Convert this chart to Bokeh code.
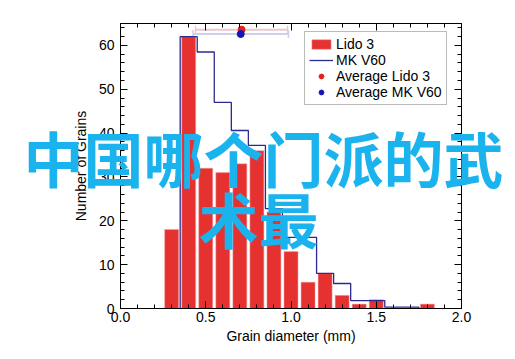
from bokeh.plotting import figure
from bokeh.models import (Range1d, SingleIntervalTicker, LinearAxis, NumeralTickFormatter,
                          Legend, LegendItem, Label, Whisker, ColumnDataSource)
from bokeh.embed import file_html
from bokeh.resources import INLINE

# ---- data ----
lido3_centers = [0.3, 0.4, 0.5, 0.6, 0.7, 0.8, 0.9, 1.0, 1.1, 1.2, 1.3, 1.4, 1.5, 1.6, 1.7, 1.8]
lido3_counts = [18, 62, 32, 31, 33, 36, 22, 13, 6, 8, 3, 1, 2, 0, 0, 1]

mkv60_centers = [0.4, 0.5, 0.6, 0.7, 0.8, 0.9, 1.0, 1.1, 1.2, 1.3, 1.4, 1.5, 1.6, 1.7]
mkv60_counts = [62, 58.5, 47, 40.6, 37.2, 22.8, 16.2, 16.2, 8, 5.7, 1.8, 1.8, 0.3, 0.3]

avg_names = ["Average Lido 3", "Average MK V60"]
avg_diam = [0.71, 0.705]
avg_sd = [0.27, 0.28]
avg_level = [63.6, 62.6]

bin_width = 0.1
x_bounds = (0.0, 2.0)
y_bounds = (0, 65)
x_label = "Grain diameter (mm)"
y_label = "Number of Grains"
overlay_line1 = "中国哪个门派的武"
overlay_line2 = "术最"

FONT = "Liberation Sans"

# ---- layout (pixels) ----
W, H = 510, 352
PX_L, PX_R, PX_T, PX_B = 120, 461, 23, 308
sxu = (PX_R - PX_L) / (x_bounds[1] - x_bounds[0])
syu = (PX_B - PX_T) / (y_bounds[1] - y_bounds[0])
x_range = Range1d(x_bounds[0] - PX_L / sxu, x_bounds[1] + (W - PX_R) / sxu)
y_range = Range1d(y_bounds[0] - (H - PX_B) / syu, y_bounds[1] + PX_T / syu)


def dx(px):
    return x_bounds[0] + (px - PX_L) / sxu


def dy(py):
    return y_bounds[0] + (PX_B - py) / syu


p = figure(width=W, height=H, output_backend="svg", toolbar_location=None,
           x_range=x_range, y_range=y_range, min_border=0)
p.xgrid.visible = False
p.ygrid.visible = False
p.outline_line_color = None
p.background_fill_color = "white"
p.border_fill_color = "white"


def style_axis(ax, labels=True):
    ax.axis_line_color = "black"
    ax.axis_line_width = 1
    ax.major_tick_line_color = "black"
    ax.minor_tick_line_color = "black"
    ax.major_tick_in = 7
    ax.major_tick_out = 0
    ax.minor_tick_in = 4
    ax.minor_tick_out = 0
    ax.major_label_text_font = FONT
    ax.major_label_text_font_size = "14px" if labels else "0px"
    ax.major_label_text_color = "black" if labels else None
    ax.axis_label_text_font = FONT
    ax.axis_label_text_font_style = "normal"
    ax.axis_label_text_color = "black"
    ax.axis_label_text_font_size = "14px"


xa = p.xaxis[0]
xa.ticker = SingleIntervalTicker(interval=0.5, num_minor_ticks=5)
xa.formatter = NumeralTickFormatter(format="0.0")
xa.axis_label = x_label
xa.fixed_location = y_bounds[0]
xa.bounds = x_bounds
style_axis(xa)
xa.major_label_standoff = 3
xa.axis_label_standoff = 3

ya = p.yaxis[0]
ya.ticker = SingleIntervalTicker(interval=10, num_minor_ticks=5)
ya.axis_label = y_label
ya.fixed_location = x_bounds[0]
ya.bounds = y_bounds
style_axis(ya)
ya.major_label_standoff = 6
ya.axis_label_standoff = 7

top_ax = LinearAxis(ticker=SingleIntervalTicker(interval=0.5, num_minor_ticks=5),
                    fixed_location=y_bounds[1], bounds=x_bounds)
style_axis(top_ax, labels=False)
p.add_layout(top_ax, "above")
right_ax = LinearAxis(ticker=SingleIntervalTicker(interval=10, num_minor_ticks=5),
                      fixed_location=x_bounds[1], bounds=y_bounds)
style_axis(right_ax, labels=False)
p.add_layout(right_ax, "right")

# Lido 3 bars
bars = p.vbar(x=lido3_centers, top=lido3_counts, width=0.082, bottom=0,
              fill_color="#e63131", line_color="#f2a3a3", line_width=0.5)

# MK V60 step outline
sx = [mkv60_centers[0] - bin_width / 2]
sy = [0]
for c, v in zip(mkv60_centers, mkv60_counts):
    sx += [c - bin_width / 2, c + bin_width / 2]
    sy += [v, v]
sx.append(mkv60_centers[-1] + bin_width / 2)
sy.append(0)
step = p.line(sx, sy, line_color="#2b2b8f", line_width=1.3)

# averages with horizontal error bars
wcolors = ["#ecc8cc", "#cdd0e8"]
for i in range(2):
    src = ColumnDataSource(dict(base=[avg_level[i]],
                                lower=[avg_diam[i] - avg_sd[i]],
                                upper=[avg_diam[i] + avg_sd[i]]))
    w = Whisker(base="base", lower="lower", upper="upper", dimension="width", source=src,
                line_color=wcolors[i], line_width=2)
    w.upper_head.size = 8
    w.lower_head.size = 8
    w.upper_head.line_color = wcolors[i]
    w.lower_head.line_color = wcolors[i]
    w.upper_head.line_width = 1.5
    w.lower_head.line_width = 1.5
    p.add_layout(w)

red_avg = p.scatter([avg_diam[0]], [avg_level[0]], size=7, fill_color="#e0211f", line_color="#e0211f")
blue_avg = p.scatter([avg_diam[1]], [avg_level[1]], size=7, fill_color="#1515b8", line_color="#1515b8")

legend = Legend(items=[
    LegendItem(label="Lido 3", renderers=[bars]),
    LegendItem(label="MK V60", renderers=[step]),
    LegendItem(label=avg_names[0], renderers=[red_avg]),
    LegendItem(label=avg_names[1], renderers=[blue_avg]),
], location=(304, H - 105))
legend.margin = 0
legend.padding = 4
legend.spacing = 0
legend.label_height = 15
legend.glyph_height = 12
legend.glyph_width = 24
legend.label_standoff = 3
legend.label_text_font = FONT
legend.label_text_font_size = "14px"
legend.label_text_color = "black"
legend.border_line_color = "#777777"
legend.border_line_width = 1
legend.background_fill_color = "white"
legend.background_fill_alpha = 1.0
p.add_layout(legend)

# overlay text
for txt, lx, ly in [(overlay_line1, 23, 156), (overlay_line2, 198, 217)]:
    p.add_layout(Label(x=dx(lx), y=dy(ly), text=txt, text_font="Noto Sans CJK SC",
                       text_font_style="bold", text_font_size="60px", text_color="#1ab3ee",
                       text_baseline="middle", text_align="left"))

open("out.html", "w").write(file_html(p, INLINE))
